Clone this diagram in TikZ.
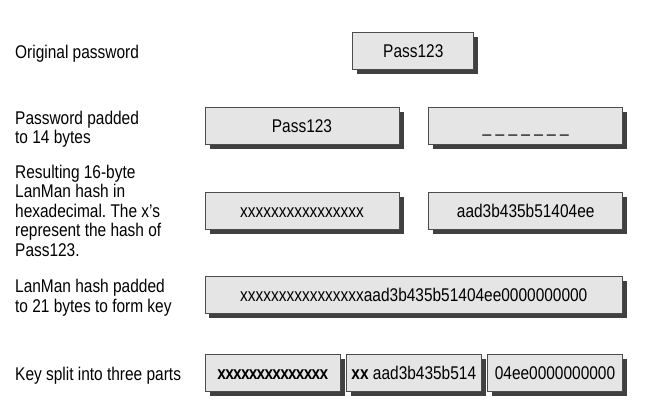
\documentclass[tikz,border=0pt]{standalone}
\usepackage{fontspec}
\setmainfont{Liberation Sans}[FakeStretch=0.84]
\usetikzlibrary{shadows}
\frenchspacing

\begin{document}
\begin{tikzpicture}[x=1pt,y=-1pt,
  box/.style={draw=black!70,line width=0.8pt,fill=black!10,inner sep=0pt,
    minimum height=37pt,text height=13.2pt,text depth=0pt,
    font=\fontsize{18.4}{19.5}\selectfont,
    drop shadow={shadow xshift=4.5pt,shadow yshift=-4.5pt,fill=black!75,opacity=1}},
  lbl/.style={anchor=north west,inner sep=0pt,align=left,
    font=\fontsize{18.4}{19.6}\selectfont}]

\useasboundingbox (0,0) rectangle (652,412);

\node[lbl] (L1) at (15,45.3) {Original password};
\node[lbl] (L2) at (15,110.8) {Password padded\\to 14 bytes};
\node[lbl] (L3) at (15,164.5) {Resulting 16-byte\\LanMan hash in\\hexadecimal. The x's\\represent the hash of\\Pass123.};
\node[lbl] (L4) at (15,279.1) {LanMan hash padded\\to 21 bytes to form key};
\node[lbl] (L5) at (15,366.8) {Key split into three parts};

\node[box,minimum width=121pt] (A) at (413.3,51.3) {Pass123};

\node[box,minimum width=194pt] (B) at (302,125.8) {Pass123};
\node[box,minimum width=194pt] (C) at (525.7,125.8) {\_ \_ \_ \_ \_ \_ \_};

\node[box,minimum width=194pt] (D) at (302,210.8) {xxxxxxxxxxxxxxxx};
\node[box,minimum width=194pt] (E) at (525.7,210.8) {aad3b435b51404ee};

\node[box,minimum width=417.7pt] (F) at (413.8,294.7) {xxxxxxxxxxxxxxxxaad3b435b51404ee0000000000};

\node[box,minimum width=135.5pt] (G) at (272.8,372.7) {\bfseries\addfontfeature{LetterSpace=-4}xxxxxxxxxxxxxx};
\node[box,minimum width=135.5pt] (H) at (413.8,372.7) {\textbf{xx} aad3b435b514};
\node[box,minimum width=135.5pt] (I) at (555,372.7) {04ee0000000000};
\end{tikzpicture}
\end{document}
